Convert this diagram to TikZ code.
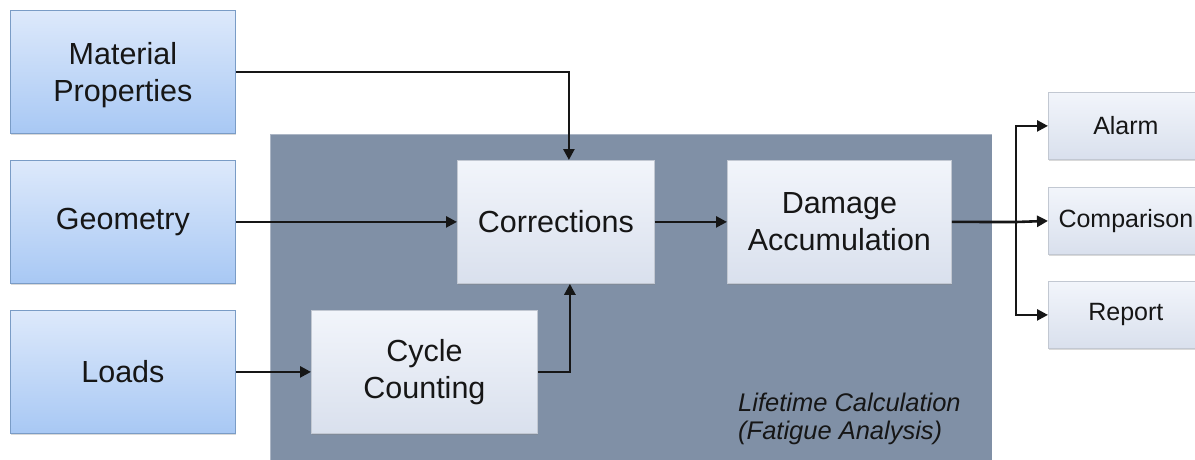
\documentclass[tikz,border=0pt]{standalone}
\usepackage{fontspec}
\setmainfont{Liberation Sans}
\usetikzlibrary{shadows,arrows.meta}
\definecolor{inblue}{HTML}{DDE9FB}
\definecolor{inbluedk}{HTML}{A8C8F4}
\definecolor{inedge}{HTML}{7A9CC6}
\definecolor{calctop}{HTML}{F2F5FB}
\definecolor{calcbot}{HTML}{D9E0ED}
\definecolor{calcedge}{HTML}{C2C8D2}
\definecolor{region}{HTML}{8090A6}
\definecolor{ink}{HTML}{161616}
\begin{document}
\begin{tikzpicture}[x=1pt,y=-1pt]
    % 定义样式
    \tikzstyle{box}=[anchor=north west, align=center, text=ink, line width=0.8pt,
        drop shadow={shadow xshift=1pt, shadow yshift=-2pt, opacity=0.3}]
    \tikzstyle{inbox}=[box, draw=inedge, top color=inblue, bottom color=inbluedk,
        minimum width=225pt, minimum height=123pt, font=\fontsize{30.5}{37}\selectfont]
    \tikzstyle{calcbox}=[box, draw=calcedge, top color=calctop, bottom color=calcbot,
        minimum height=123pt, font=\fontsize{30.5}{37}\selectfont]
    \tikzstyle{outbox}=[box, draw=calcedge, top color=calctop, bottom color=calcbot,
        minimum width=155pt, minimum height=67pt, font=\fontsize{25}{30}\selectfont]
    \tikzstyle{flow}=[-{Triangle[length=11pt,width=11pt]}, line width=2.6pt, ink]

    \useasboundingbox (0,0) rectangle (1195,459);

    % 1. 灰色区域 (寿命计算)
    \fill[region] (270,134) rectangle (992,465);
    \draw[white, opacity=0.35, line width=0.8pt] (270,465) -- (270,134) -- (992,134) -- (992,465);
    \node[anchor=north west, align=left, text=ink, inner sep=0pt,
        font=\itshape\fontsize{25.5}{28}\selectfont] (lbl) at (738,393)
        {Lifetime Calculation\\(Fatigue Analysis)};

    % 2. 输入
    \node[inbox, text depth=-6pt] (mat) at (10,10) {Material\\Properties};
    \node[inbox] (geo) at (10,160) {Geometry};
    \node[inbox] (load) at (10,310) {Loads};

    % 3. 计算步骤
    \node[calcbox, minimum width=197pt] (corr) at (457,160) {Corrections};
    \node[calcbox, minimum width=224pt] (dmg) at (727,160) {Damage\\Accumulation};
    \node[calcbox, minimum width=226pt] (cyc) at (311,310) {Cycle\\Counting};

    % 4. 输出
    \node[outbox] (alarm) at (1048,92) {Alarm};
    \node[outbox] (cmp) at (1048,187) {\hspace*{-8pt}Comparison\hspace*{-8pt}};
    \node[outbox] (rep) at (1048,281) {Report};

    % 5. 连线
    \draw[flow] (mat.east) -| ([xshift=13pt]corr.north);
    \draw[flow] (geo.east) -- (corr.west);
    \draw[flow] (load.east) -- (cyc.west);
    \draw[flow] (cyc.east) -| ([xshift=14pt]corr.south);
    \draw[flow] (corr.east) -- (dmg.west);

    \coordinate (fork) at (1016,222);
    \draw[line width=2.6pt, ink] (dmg.east) -- (fork);
    \draw[flow] (fork) |- (alarm.west);
    \draw[flow] (fork) -- (cmp.west);
    \draw[flow] (fork) |- (rep.west);

\end{tikzpicture}
\end{document}
